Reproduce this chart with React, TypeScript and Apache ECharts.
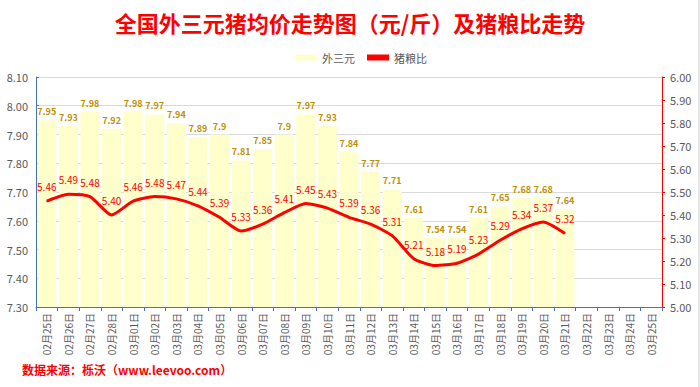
import React, { useEffect, useRef } from "react";
import * as echarts from "echarts";

const categories = [
  "02月25日", "02月26日", "02月27日", "02月28日",
  "03月01日", "03月02日", "03月03日", "03月04日", "03月05日", "03月06日",
  "03月07日", "03月08日", "03月09日", "03月10日", "03月11日", "03月12日",
  "03月13日", "03月14日", "03月15日", "03月16日", "03月17日", "03月18日",
  "03月19日", "03月20日", "03月21日", "03月22日", "03月23日", "03月24日", "03月25日",
];

const priceValues = [
  7.95, 7.93, 7.98, 7.92, 7.98, 7.97, 7.94, 7.89, 7.9, 7.81,
  7.85, 7.9, 7.97, 7.93, 7.84, 7.77, 7.71, 7.61, 7.54, 7.54,
  7.61, 7.65, 7.68, 7.68, 7.64,
];

const ratioValues = [
  5.46, 5.49, 5.48, 5.40, 5.46, 5.48, 5.47, 5.44, 5.39, 5.33,
  5.36, 5.41, 5.45, 5.43, 5.39, 5.36, 5.31, 5.21, 5.18, 5.19,
  5.23, 5.29, 5.34, 5.37, 5.32,
];

const titleText = "全国外三元猪均价走势图（元/斤）及猪粮比走势";
const sourceText = "数据来源：栎沃（www.leevoo.com）";

export default function App() {
  const ref = useRef<HTMLDivElement>(null);
  useEffect(() => {
    if (!ref.current) return;
    const chart = echarts.init(ref.current, null, { renderer: "svg" });
    const font = "'Microsoft YaHei', 'Noto Sans CJK SC', sans-serif";
    chart.setOption({
      animation: false,
      backgroundColor: "#FFFFFF",
      textStyle: { fontFamily: font },
      title: {
        text: titleText,
        left: "center",
        top: 6,
        textStyle: { color: "#FF0000", fontSize: 22, fontWeight: "bold", fontFamily: font },
      },
      graphic: [
        {
          type: "text",
          left: 22,
          top: 363,
          style: { text: sourceText, fill: "#FF0000", fontSize: 12, fontWeight: "bold", fontFamily: font },
        },
        {
          type: "rect",
          right: 0,
          top: 0,
          shape: { width: 2, height: 387 },
          style: { fill: "#E6E6E6" },
          silent: true,
        },
      ],
      legend: {
        top: 47,
        left: 290,
        itemWidth: 22,
        itemHeight: 6,
        itemGap: 12,
        textStyle: { color: "#595959", fontSize: 11 },
        data: [
          { name: "外三元", icon: "rect" },
          { name: "猪粮比", icon: "rect" },
        ],
      },
      grid: { left: 36, right: 38, top: 77, bottom: 80, containLabel: false },
      xAxis: {
        type: "category",
        data: categories,
        boundaryGap: true,
        axisLine: { lineStyle: { color: "#4472C4", width: 1 } },
        axisTick: { show: true, alignWithLabel: false, lineStyle: { color: "#4472C4" }, length: 4 },
        axisLabel: { rotate: 90, color: "#595959", fontSize: 10, interval: 0, margin: 6 },
      },
      yAxis: [
        {
          type: "value",
          min: 7.3,
          max: 8.1,
          interval: 0.1,
          position: "left",
          axisLine: { show: true, lineStyle: { color: "#4472C4" } },
          axisTick: { show: true, inside: true, length: 3, lineStyle: { color: "#4472C4" } },
          axisLabel: { color: "#595959", fontSize: 11, formatter: (v: number) => v.toFixed(2), margin: 8 },
          splitLine: { show: true, lineStyle: { color: "#D9D9D9", width: 1 } },
        },
        {
          type: "value",
          min: 5.0,
          max: 6.0,
          interval: 0.1,
          position: "right",
          axisLine: { show: true, lineStyle: { color: "#FF0000" } },
          axisTick: { show: true, length: 3, lineStyle: { color: "#FF0000" } },
          axisLabel: { color: "#595959", fontSize: 11, formatter: (v: number) => v.toFixed(2), margin: 8 },
          splitLine: { show: false },
        },
      ],
      series: [
        {
          name: "外三元",
          type: "bar",
          data: priceValues,
          barCategoryGap: "12%",
          itemStyle: { color: "#FFFFCC" },
          label: {
            show: true,
            position: "top",
            distance: 4,
            color: "#C09000",
            fontSize: 9,
            fontWeight: "bold",
          },
        },
        {
          name: "猪粮比",
          type: "line",
          yAxisIndex: 1,
          data: ratioValues,
          smooth: 0.2,
          symbol: "circle",
          symbolSize: 1,
          showSymbol: true,
          lineStyle: { color: "#FF0000", width: 3 },
          itemStyle: { color: "#FF0000" },
          label: {
            show: true,
            position: "top",
            distance: 9,
            color: "#FF0000",
            fontSize: 10,
            formatter: (p: any) => Number(p.value).toFixed(2),
          },
        },
      ],
    });
    return () => chart.dispose();
  }, []);
  return (
    <div
      ref={ref}
      style={{ position: "fixed", left: 0, top: 0, width: 700, height: 387 }}
    />
  );
}
